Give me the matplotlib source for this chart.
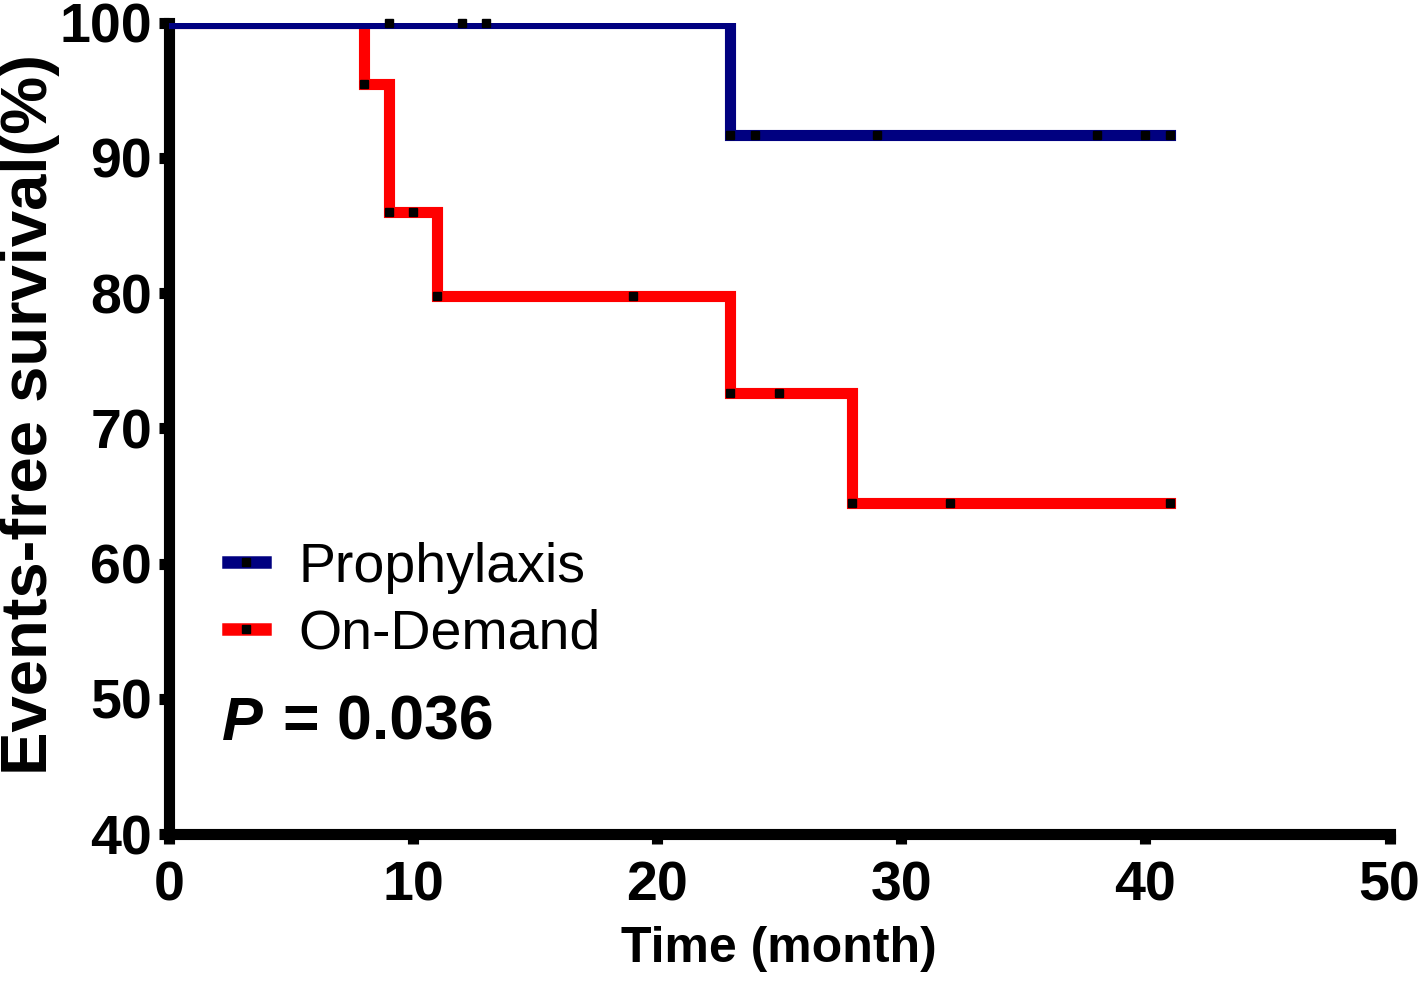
import matplotlib
matplotlib.use("Agg")
import matplotlib.pyplot as plt
from matplotlib.lines import Line2D

plt.rcParams["font.family"] = ["Liberation Sans", "DejaVu Sans"]

# Kaplan-Meier step data (time in months, survival in %)
pro_t = [0, 23, 41]
pro_s = [100, 91.7, 91.7]
pro_cens_t = [9, 12, 13, 23, 24, 29, 38, 40, 41]
pro_cens_s = [100, 100, 100, 91.7, 91.7, 91.7, 91.7, 91.7, 91.7]

ond_t = [0, 8, 9, 11, 23, 28, 41]
ond_s = [100, 95.5, 86.0, 79.8, 72.6, 64.5, 64.5]
ond_cens_t = [8, 9, 10, 11, 19, 23, 25, 28, 32, 41]
ond_cens_s = [95.5, 86.0, 86.0, 79.8, 79.8, 72.6, 72.6, 64.5, 64.5, 64.5]

x_ticks = [0, 10, 20, 30, 40, 50]
y_ticks = [40, 50, 60, 70, 80, 90, 100]

BLUE = "#000080"
RED = "#FF0000"

fig = plt.figure(figsize=(14.18, 9.86), dpi=100)
ax = fig.add_axes([0.119, 0.154, 0.861, 0.823])

ax.step(ond_t, ond_s, where="post", color=RED, linewidth=8, solid_joinstyle="miter", zorder=2)
ax.step(pro_t, pro_s, where="post", color=BLUE, linewidth=8, solid_joinstyle="miter", zorder=3)
ax.plot(ond_cens_t, ond_cens_s, "s", color="black", markersize=6, zorder=4, clip_on=False)
ax.plot(pro_cens_t, pro_cens_s, "s", color="black", markersize=6, zorder=4, clip_on=False)

ax.set_xlim(0, 50)
ax.set_ylim(40, 100)
ax.set_xticks(x_ticks)
ax.set_yticks(y_ticks)

for side in ["top", "right"]:
    ax.spines[side].set_visible(False)
for side in ["left", "bottom"]:
    ax.spines[side].set_linewidth(8)
    ax.spines[side].set_capstyle("projecting")

ax.tick_params(axis="both", direction="out", length=7, width=8, labelsize=40)
ax.tick_params(axis="x", pad=12)
ax.tick_params(axis="y", pad=5)
for lab in ax.get_xticklabels() + ax.get_yticklabels():
    lab.set_fontweight("bold")

ax.set_xlabel("Time (month)", fontsize=36, fontweight="bold", labelpad=10)
ax.set_ylabel("Events-free survival(%)", fontsize=47, fontweight="bold")
ax.yaxis.set_label_coords(-0.089, 0.517)

handles = [
    Line2D([], [], color=BLUE, linewidth=9, marker="s", markersize=6,
           markerfacecolor="black", markeredgecolor="black"),
    Line2D([], [], color=RED, linewidth=9, marker="s", markersize=6,
           markerfacecolor="black", markeredgecolor="black"),
]
fig.legend(handles, ["Prophylaxis", "On-Demand"], loc="upper left",
           bbox_to_anchor=(0.1452, 0.473), frameon=False, fontsize=40,
           handlelength=0.66, handletextpad=0.6, labelspacing=0.26,
           numpoints=1, borderaxespad=0)

fig.text(222 / 1418, 1 - 740 / 986, "P", fontsize=44, fontweight="bold",
         fontstyle="italic", va="baseline")
fig.text(283 / 1418, 1 - 740 / 986, "= 0.036", fontsize=45, fontweight="bold",
         va="baseline")

fig.savefig("out.png", dpi=100)
